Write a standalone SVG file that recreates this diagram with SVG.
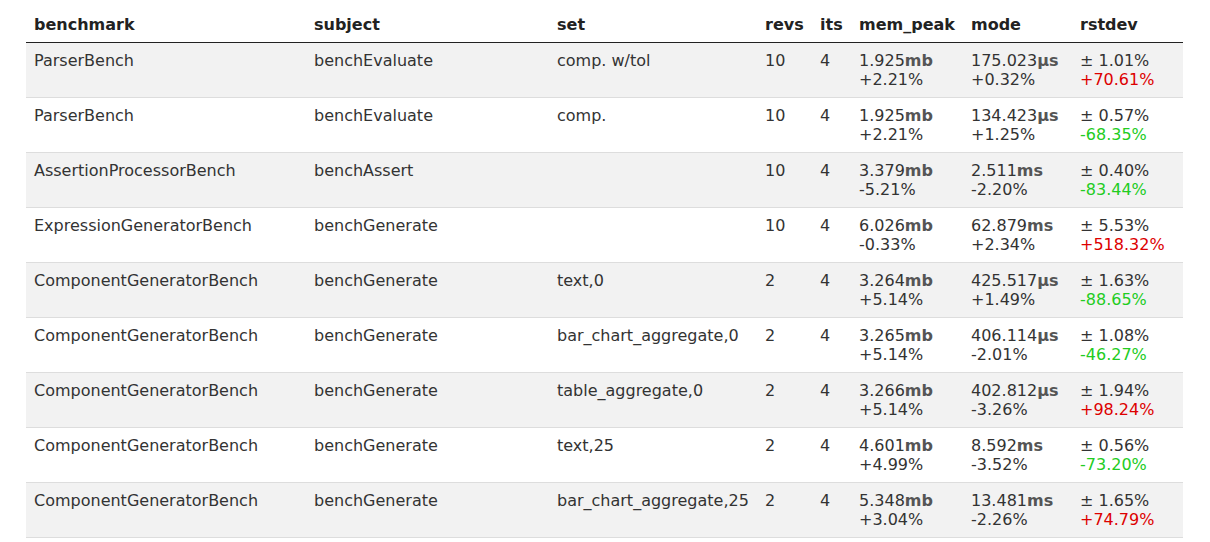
<svg xmlns="http://www.w3.org/2000/svg" width="1210" height="542" viewBox="0 0 1210 542">
<style>
text{font-family:"DejaVu Sans",sans-serif;font-size:16px;fill:#333}
.h{font-weight:bold;fill:#222}
.u{font-weight:bold;fill:#555}
.r{fill:#dd0000}
.g{fill:#22cc22}
.sep{stroke:#ddd;stroke-width:1}
</style>
<rect width="1210" height="542" fill="#fff"/>
<g id="header">
<text class="h" x="34" y="30">benchmark</text><text class="h" x="314" y="30">subject</text><text class="h" x="557" y="30">set</text><text class="h" x="765" y="30">revs</text><text class="h" x="820" y="30">its</text><text class="h" x="859" y="30">mem_peak</text><text class="h" x="971" y="30">mode</text><text class="h" x="1080" y="30">rstdev</text>
<line x1="26" y1="42.5" x2="1183" y2="42.5" stroke="#222" stroke-width="1"/>
</g>
<g id="row1"><rect x="26" y="43" width="1157" height="54" fill="#f2f2f2"/><line class="sep" x1="26" y1="97.5" x2="1183" y2="97.5"/>
<text x="34" y="66">ParserBench</text><text x="314" y="66">benchEvaluate</text><text x="557" y="66">comp. w/tol</text><text x="765" y="66">10</text><text x="820" y="66">4</text>
<text x="859" y="66">1.925<tspan class="u">mb</tspan></text><text x="859" y="85">+2.21%</text><text x="971" y="66">175.023<tspan class="u">μs</tspan></text><text x="971" y="85">+0.32%</text><text x="1080" y="66">± 1.01%</text><text class="r" x="1080" y="85">+70.61%</text></g>
<g id="row2"><line class="sep" x1="26" y1="152.5" x2="1183" y2="152.5"/>
<text x="34" y="121">ParserBench</text><text x="314" y="121">benchEvaluate</text><text x="557" y="121">comp.</text><text x="765" y="121">10</text><text x="820" y="121">4</text>
<text x="859" y="121">1.925<tspan class="u">mb</tspan></text><text x="859" y="140">+2.21%</text><text x="971" y="121">134.423<tspan class="u">μs</tspan></text><text x="971" y="140">+1.25%</text><text x="1080" y="121">± 0.57%</text><text class="g" x="1080" y="140">-68.35%</text></g>
<g id="row3"><rect x="26" y="153" width="1157" height="54" fill="#f2f2f2"/><line class="sep" x1="26" y1="207.5" x2="1183" y2="207.5"/>
<text x="34" y="176">AssertionProcessorBench</text><text x="314" y="176">benchAssert</text><text x="765" y="176">10</text><text x="820" y="176">4</text>
<text x="859" y="176">3.379<tspan class="u">mb</tspan></text><text x="859" y="195">-5.21%</text><text x="971" y="176">2.511<tspan class="u">ms</tspan></text><text x="971" y="195">-2.20%</text><text x="1080" y="176">± 0.40%</text><text class="g" x="1080" y="195">-83.44%</text></g>
<g id="row4"><line class="sep" x1="26" y1="262.5" x2="1183" y2="262.5"/>
<text x="34" y="231">ExpressionGeneratorBench</text><text x="314" y="231">benchGenerate</text><text x="765" y="231">10</text><text x="820" y="231">4</text>
<text x="859" y="231">6.026<tspan class="u">mb</tspan></text><text x="859" y="250">-0.33%</text><text x="971" y="231">62.879<tspan class="u">ms</tspan></text><text x="971" y="250">+2.34%</text><text x="1080" y="231">± 5.53%</text><text class="r" x="1080" y="250">+518.32%</text></g>
<g id="row5"><rect x="26" y="263" width="1157" height="54" fill="#f2f2f2"/><line class="sep" x1="26" y1="317.5" x2="1183" y2="317.5"/>
<text x="34" y="286">ComponentGeneratorBench</text><text x="314" y="286">benchGenerate</text><text x="557" y="286">text,0</text><text x="765" y="286">2</text><text x="820" y="286">4</text>
<text x="859" y="286">3.264<tspan class="u">mb</tspan></text><text x="859" y="305">+5.14%</text><text x="971" y="286">425.517<tspan class="u">μs</tspan></text><text x="971" y="305">+1.49%</text><text x="1080" y="286">± 1.63%</text><text class="g" x="1080" y="305">-88.65%</text></g>
<g id="row6"><line class="sep" x1="26" y1="372.5" x2="1183" y2="372.5"/>
<text x="34" y="341">ComponentGeneratorBench</text><text x="314" y="341">benchGenerate</text><text x="557" y="341">bar_chart_aggregate,0</text><text x="765" y="341">2</text><text x="820" y="341">4</text>
<text x="859" y="341">3.265<tspan class="u">mb</tspan></text><text x="859" y="360">+5.14%</text><text x="971" y="341">406.114<tspan class="u">μs</tspan></text><text x="971" y="360">-2.01%</text><text x="1080" y="341">± 1.08%</text><text class="g" x="1080" y="360">-46.27%</text></g>
<g id="row7"><rect x="26" y="373" width="1157" height="54" fill="#f2f2f2"/><line class="sep" x1="26" y1="427.5" x2="1183" y2="427.5"/>
<text x="34" y="396">ComponentGeneratorBench</text><text x="314" y="396">benchGenerate</text><text x="557" y="396">table_aggregate,0</text><text x="765" y="396">2</text><text x="820" y="396">4</text>
<text x="859" y="396">3.266<tspan class="u">mb</tspan></text><text x="859" y="415">+5.14%</text><text x="971" y="396">402.812<tspan class="u">μs</tspan></text><text x="971" y="415">-3.26%</text><text x="1080" y="396">± 1.94%</text><text class="r" x="1080" y="415">+98.24%</text></g>
<g id="row8"><line class="sep" x1="26" y1="482.5" x2="1183" y2="482.5"/>
<text x="34" y="451">ComponentGeneratorBench</text><text x="314" y="451">benchGenerate</text><text x="557" y="451">text,25</text><text x="765" y="451">2</text><text x="820" y="451">4</text>
<text x="859" y="451">4.601<tspan class="u">mb</tspan></text><text x="859" y="470">+4.99%</text><text x="971" y="451">8.592<tspan class="u">ms</tspan></text><text x="971" y="470">-3.52%</text><text x="1080" y="451">± 0.56%</text><text class="g" x="1080" y="470">-73.20%</text></g>
<g id="row9"><rect x="26" y="483" width="1157" height="54" fill="#f2f2f2"/><line class="sep" x1="26" y1="537.5" x2="1183" y2="537.5"/>
<text x="34" y="506">ComponentGeneratorBench</text><text x="314" y="506">benchGenerate</text><text x="557" y="506">bar_chart_aggregate,25</text><text x="765" y="506">2</text><text x="820" y="506">4</text>
<text x="859" y="506">5.348<tspan class="u">mb</tspan></text><text x="859" y="525">+3.04%</text><text x="971" y="506">13.481<tspan class="u">ms</tspan></text><text x="971" y="525">-2.26%</text><text x="1080" y="506">± 1.65%</text><text class="r" x="1080" y="525">+74.79%</text></g>
<g id="connectors"/>
</svg>
